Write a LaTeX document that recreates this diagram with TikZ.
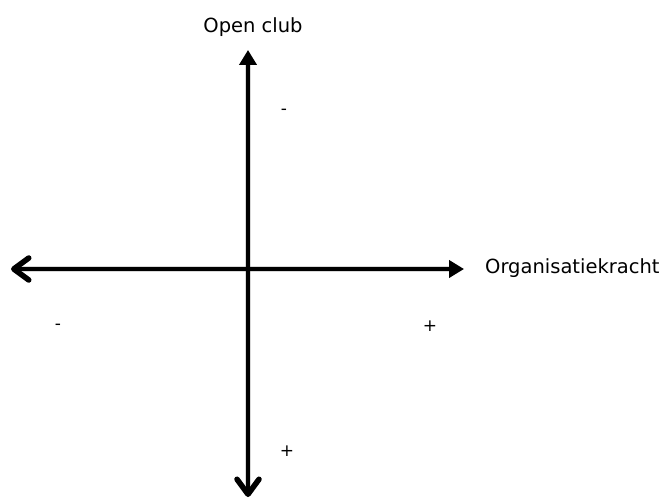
\documentclass[tikz,border=0pt]{standalone}
\usepackage{fontspec}
\setmainfont{DejaVu Sans}
\usetikzlibrary{arrows.meta}
\begin{document}
\begin{tikzpicture}[x=1pt,y=-1pt,
  axisline/.style={line width=4.5pt, draw=black},
  shadowline/.style={line width=6pt, draw=black, opacity=0.15},
  barb/.tip={Straight Barb[length=15pt,width=22pt,round,line width=5.5pt]},
  head/.tip={Triangle[length=15pt,width=17pt]},
  lbl/.style={font=\fontsize{19.5}{22}\selectfont, inner sep=0pt},
  sign/.style={font=\fontsize{17}{20}\selectfont, inner sep=0pt}]
\useasboundingbox (0,0) rectangle (671,500);
% axis end points
\coordinate (top) at (248,50);
\coordinate (bottom) at (248,497);
\coordinate (left) at (11,269);
\coordinate (right) at (464,269);
% shadows
\begin{scope}[shift={(1.5,3.5)}]
  \draw[shadowline, barb-head] (bottom) -- (top);
  \draw[shadowline, barb-head] (left) -- (right);
\end{scope}
% axes
\draw[axisline, barb-head] (bottom) -- (top);
\draw[axisline, barb-head] (left) -- (right);
% labels
\node[lbl] (openclub) at (253,27) {Open club};
\node[lbl, anchor=west] (org) at (485,268) {Organisatiekracht};
\node[sign] (mtop) at (284,112) {-};
\node[sign] (pbot) at (287,451) {+};
\node[sign] (mleft) at (58,327) {-};
\node[sign] (pright) at (430,326) {+};
\end{tikzpicture}
\end{document}
